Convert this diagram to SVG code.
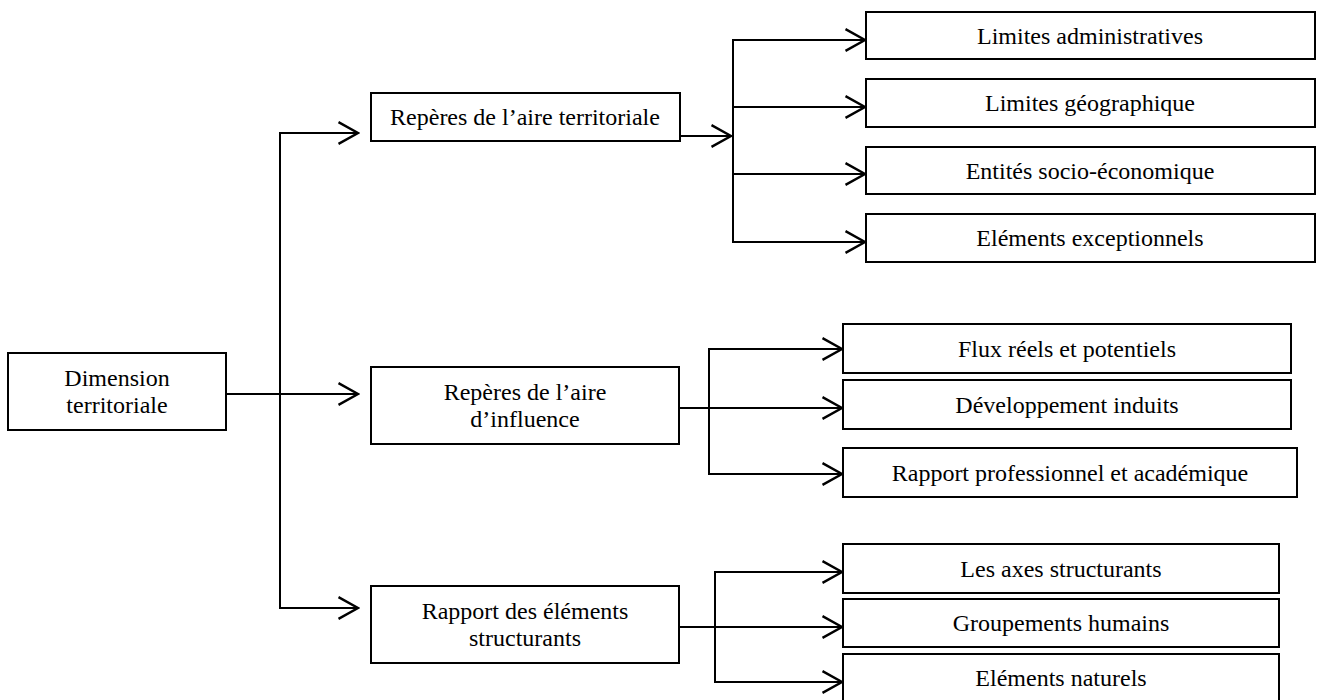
<svg xmlns="http://www.w3.org/2000/svg" width="1321" height="700" viewBox="0 0 1321 700">
<style>
.box{fill:#fff;stroke:#000;stroke-width:2}
.lbl{font-family:"Liberation Serif","Times New Roman",serif;font-size:24px;fill:#000;text-anchor:middle}
.ln{fill:none;stroke:#000;stroke-width:2}
</style>
<defs>
<marker id="arr" markerUnits="userSpaceOnUse" markerWidth="24" markerHeight="26" viewBox="-20 -12 22 24" refX="0" refY="0" orient="auto">
<path d="M-18,-10 L0,0 L-18,10" fill="none" stroke="#000" stroke-width="2.2"/>
</marker>
</defs>
<rect width="1321" height="700" fill="#fff"/>
<g id="connectors">
<path class="ln" d="M226,394 H358" marker-end="url(#arr)"/>
<path class="ln" d="M358,133 H280 V608 H358" marker-end="url(#arr)"/>
<path class="ln" d="M280,133 H358" marker-end="url(#arr)"/>
<path class="ln" d="M680,136 H731" marker-end="url(#arr)"/>
<path class="ln" d="M865,40 H733 V242 H865" marker-end="url(#arr)"/>
<path class="ln" d="M733,40 H865" marker-end="url(#arr)"/>
<path class="ln" d="M733,107 H865" marker-end="url(#arr)"/>
<path class="ln" d="M733,174 H865" marker-end="url(#arr)"/>
<path class="ln" d="M842,349 H709 V474 H842" marker-end="url(#arr)"/>
<path class="ln" d="M709,349 H842" marker-end="url(#arr)"/>
<path class="ln" d="M679,408 H842" marker-end="url(#arr)"/>
<path class="ln" d="M842,572 H715 V682 H842" marker-end="url(#arr)"/>
<path class="ln" d="M715,572 H842" marker-end="url(#arr)"/>
<path class="ln" d="M679,627 H842" marker-end="url(#arr)"/>
</g>
<g id="n-dimension">
<rect class="box" x="8" y="353" width="218" height="77"/>
<text class="lbl" x="117" y="386">Dimension</text>
<text class="lbl" x="117" y="413">territoriale</text>
</g>
<g id="n-aire-territoriale">
<rect class="box" x="371" y="93" width="309" height="48"/>
<text class="lbl" x="525" y="125">Repères de l’aire territoriale</text>
</g>
<g id="n-aire-influence">
<rect class="box" x="371" y="367" width="308" height="77"/>
<text class="lbl" x="525" y="400">Repères de l’aire</text>
<text class="lbl" x="525" y="427">d’influence</text>
</g>
<g id="n-elements-structurants">
<rect class="box" x="371" y="586" width="308" height="77"/>
<text class="lbl" x="525" y="619">Rapport des éléments</text>
<text class="lbl" x="525" y="646">structurants</text>
</g>
<g id="n-limites-admin">
<rect class="box" x="866" y="12" width="449" height="47"/>
<text class="lbl" x="1090" y="44">Limites administratives</text>
</g>
<g id="n-limites-geo">
<rect class="box" x="866" y="79" width="449" height="48"/>
<text class="lbl" x="1090" y="111">Limites géographique</text>
</g>
<g id="n-entites">
<rect class="box" x="866" y="147" width="449" height="47"/>
<text class="lbl" x="1090" y="179">Entités socio-économique</text>
</g>
<g id="n-exceptionnels">
<rect class="box" x="866" y="214" width="449" height="48"/>
<text class="lbl" x="1090" y="246">Eléments exceptionnels</text>
</g>
<g id="n-flux">
<rect class="box" x="843" y="324" width="448" height="49"/>
<text class="lbl" x="1067" y="357">Flux réels et potentiels</text>
</g>
<g id="n-developpement">
<rect class="box" x="843" y="380" width="448" height="49"/>
<text class="lbl" x="1067" y="413">Développement induits</text>
</g>
<g id="n-rapport-pro">
<rect class="box" x="843" y="448" width="454" height="49"/>
<text class="lbl" x="1070" y="481">Rapport professionnel et académique</text>
</g>
<g id="n-axes">
<rect class="box" x="843" y="544" width="436" height="49"/>
<text class="lbl" x="1061" y="577">Les axes structurants</text>
</g>
<g id="n-groupements">
<rect class="box" x="843" y="599" width="436" height="48"/>
<text class="lbl" x="1061" y="631">Groupements humains</text>
</g>
<g id="n-naturels">
<rect class="box" x="843" y="654" width="436" height="50"/>
<text class="lbl" x="1061" y="686">Eléments naturels</text>
</g>
</svg>
